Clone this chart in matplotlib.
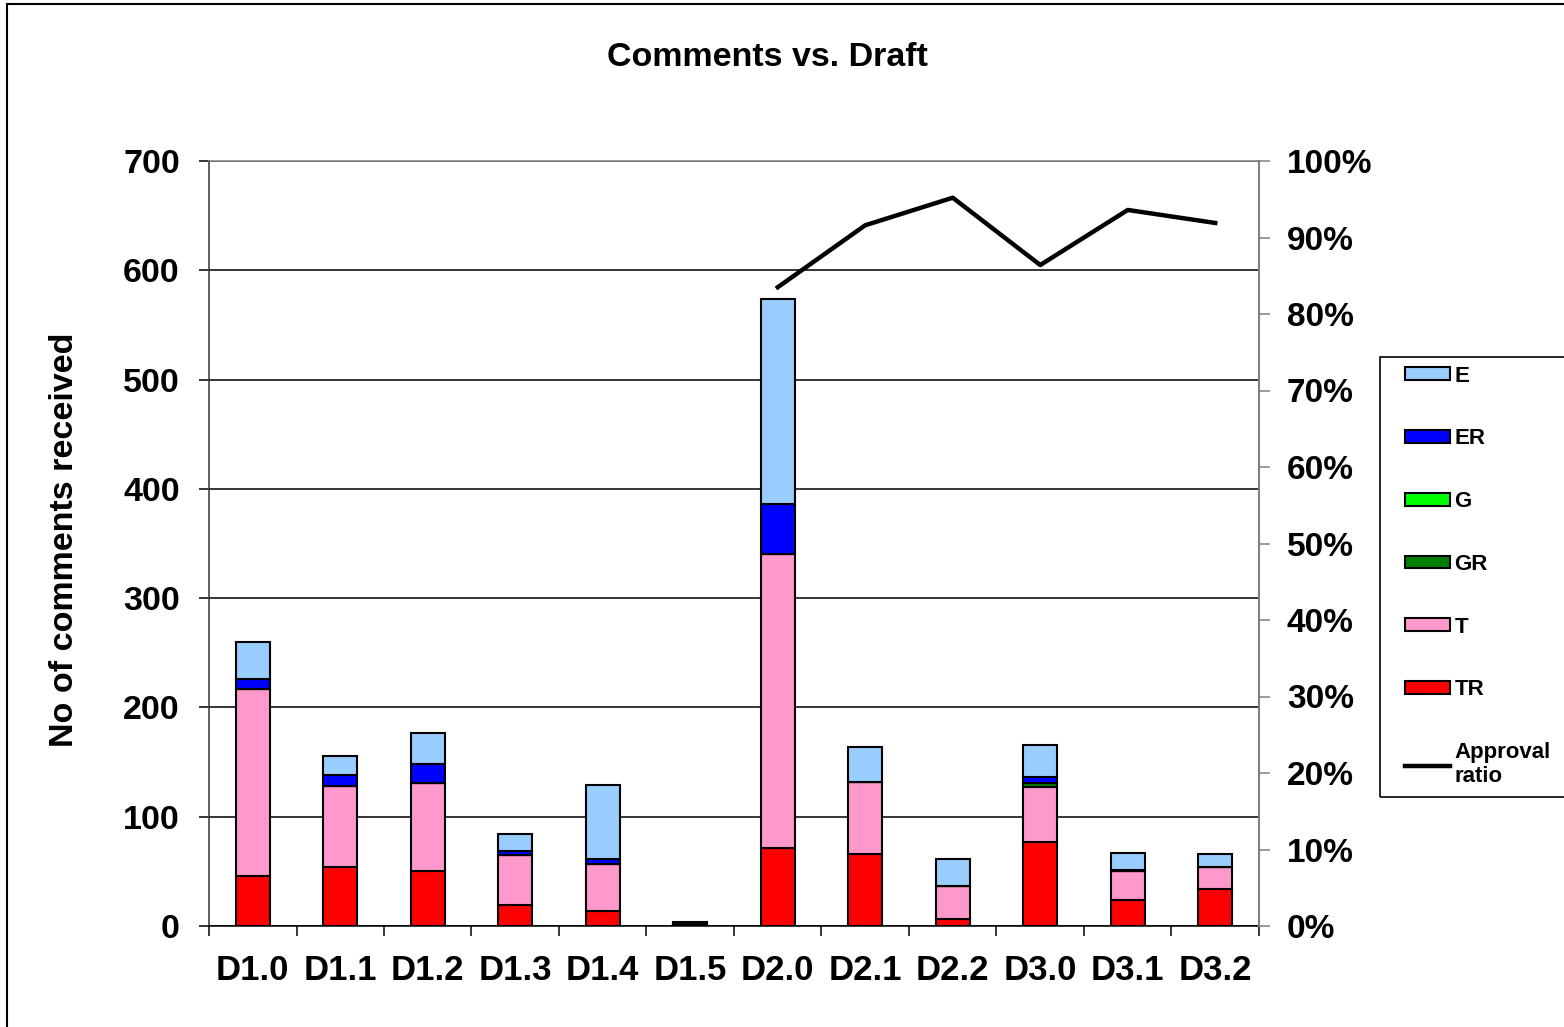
import numpy as np
import matplotlib
matplotlib.use("Agg")
import matplotlib.pyplot as plt
from matplotlib.patches import Rectangle
from matplotlib.ticker import FuncFormatter

plt.rcParams['font.family'] = ['Liberation Sans', 'DejaVu Sans']
plt.rcParams['font.weight'] = 'bold'

drafts = ["D1.0", "D1.1", "D1.2", "D1.3", "D1.4", "D1.5",
          "D2.0", "D2.1", "D2.2", "D3.0", "D3.1", "D3.2"]
tr = [46, 54, 50, 19, 14, 1, 71, 66, 6, 77, 24, 34]
t = [171, 74, 81, 46, 43, 1, 269, 66, 31, 50, 26, 20]
gr = [0, 0, 0, 0, 0, 0, 0, 0, 0, 4, 0, 0]
g = [0, 0, 0, 0, 0, 0, 0, 0, 0, 0, 0, 0]
er = [9, 10, 17, 4, 4, 1, 46, 0, 0, 5, 1, 0]
e = [34, 18, 29, 15, 68, 1, 188, 32, 24, 30, 16, 12]
approval = [None, None, None, None, None, None, 0.835, 0.916, 0.952, 0.864, 0.936, 0.919]

series = [("TR", tr, "#FF0000"), ("T", t, "#FF99CC"), ("GR", gr, "#008000"),
          ("G", g, "#00FF00"), ("ER", er, "#0000FF"), ("E", e, "#99CCFF")]

W, H = 1564, 1027
fig = plt.figure(figsize=(W / 100, H / 100), dpi=100)
ax = fig.add_axes([209 / W, 1 - 926 / H, 1050 / W, 765 / H])

x = np.arange(len(drafts))
bottom = np.zeros(len(drafts))
handles = {}
for name, vals, col in series:
    vals = np.array(vals, dtype=float)
    b = ax.bar(x, vals, 0.39, bottom=bottom, color=col, edgecolor="black",
               linewidth=1.5, zorder=3)
    handles[name] = b
    bottom += vals

ax.set_xlim(-0.5, len(drafts) - 0.5)
ax.set_ylim(0, 700)
ax.set_yticks(range(0, 701, 100))
ax.yaxis.grid(True, color="black", linewidth=1.1, zorder=0)
ax.set_axisbelow(True)
ax.set_xticks(x)
ax.set_xticklabels(drafts, fontsize=25, fontweight="bold")
ax.set_xticks(np.arange(-0.5, len(drafts)), minor=True)
ax.tick_params(axis="x", which="major", length=0, pad=20)
ax.tick_params(axis="x", which="minor", length=7, width=1.1, direction="out")
ax.tick_params(axis="y", labelsize=24.5, length=7, width=1.1, pad=14)
for lab in ax.get_yticklabels():
    lab.set_fontweight("bold")
ax.spines["top"].set_color("#808080")
ax.spines["right"].set_visible(False)
ax.spines["left"].set_color("#333333")
for s in ax.spines.values():
    s.set_linewidth(1.1)

ax2 = ax.twinx()
ax2.set_ylim(0, 1)
ax2.set_yticks(np.arange(0, 1.01, 0.1))
ax2.yaxis.set_major_formatter(FuncFormatter(lambda v, p: f"{v * 100:.0f}%"))
ax2.tick_params(axis="y", labelsize=24, length=8, width=1.1, color="#808080", pad=12)
for lab in ax2.get_yticklabels():
    lab.set_fontweight("bold")
for sp in ["top", "left", "bottom"]:
    ax2.spines[sp].set_visible(False)
ax2.spines["right"].set_color("#808080")
ax2.spines["right"].set_linewidth(1.5)
ax_x = [i for i, a in enumerate(approval) if a is not None]
ax_y = [a for a in approval if a is not None]
line, = ax2.plot(ax_x, ax_y, color="black", linewidth=3.2, zorder=4)

fig.text(767 / W, 1 - 57 / H, "Comments vs. Draft", ha="center", va="center",
         fontsize=24.5, fontweight="bold")
fig.text(65 / W, 1 - 540 / H, "No of comments received", ha="center", va="center",
         rotation=90, fontsize=24.5, fontweight="bold")

# chart area frame and legend box
fig.patches.append(Rectangle((7 / W, -0.05), 1.1, 1 - 4 / H + 0.05, transform=fig.transFigure,
                             fill=False, edgecolor="black", linewidth=1.5))
fig.patches.append(Rectangle((1380 / W, 1 - 797 / H), 0.2, 440 / H, transform=fig.transFigure,
                             fill=False, edgecolor="black", linewidth=1.2))

leg_names = ["E", "ER", "G", "GR", "T", "TR"]
leg_handles = [handles[n] for n in leg_names] + [line]
leg_labels = leg_names + ["Approval\nratio"]
leg = fig.legend(leg_handles, leg_labels, loc="upper left",
                 bbox_to_anchor=(1389 / W, 1 - 350 / H), frameon=False,
                 prop={"size": 16, "weight": "bold"}, handlelength=2.05,
                 handleheight=0.5, handletextpad=0.2, labelspacing=1.88,
                 borderpad=0.2)

fig.savefig("out.png", dpi=100)
